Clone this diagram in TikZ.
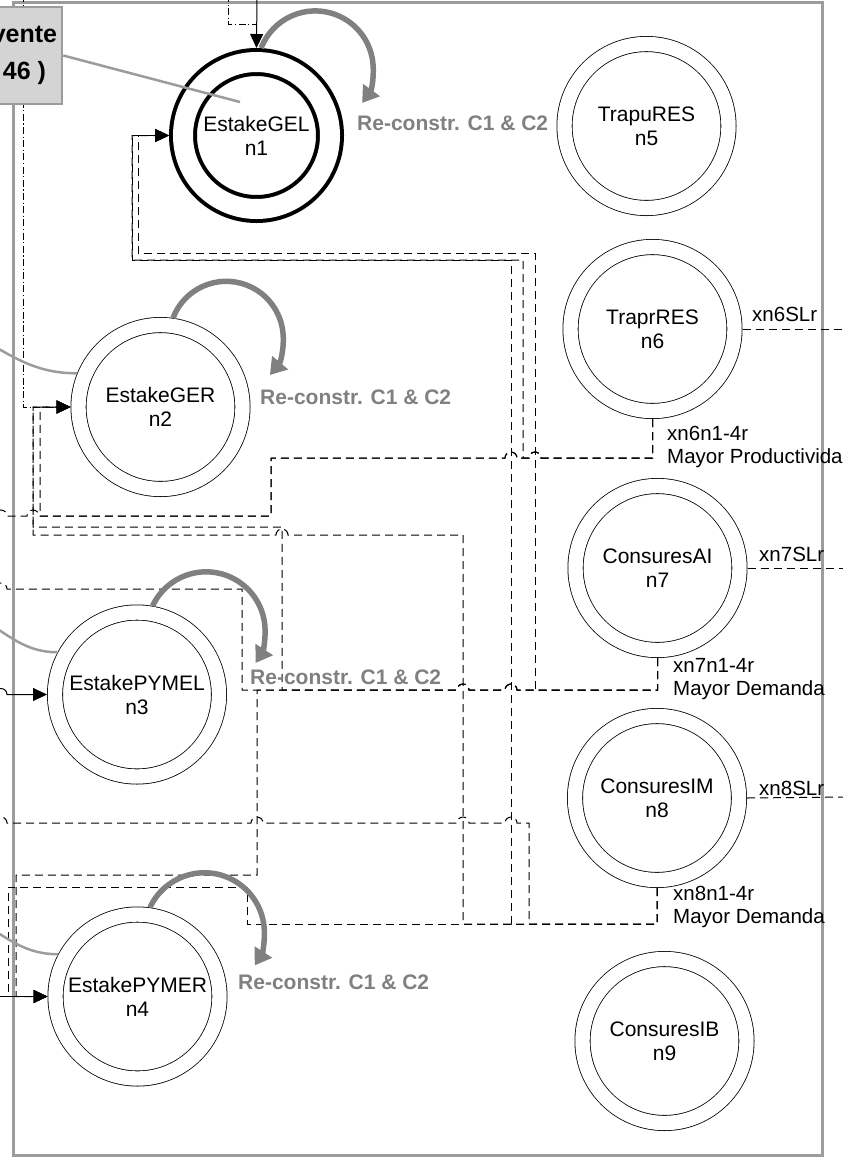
\documentclass[tikz,border=0pt]{standalone}
\usepackage{fontspec}
\setmainfont{Liberation Sans}
\usetikzlibrary{arrows.meta}

\definecolor{loopgray}{HTML}{808080}
\definecolor{framegray}{HTML}{9C9C9C}
\definecolor{boxgray}{HTML}{D4D4D4}

\begin{document}
\begin{tikzpicture}[x=1pt, y=1pt,
    state/.style={circle, draw, double, line width=0.8pt, double distance=14.4pt, minimum size=164pt, inner sep=0pt, outer sep=8pt, align=center, font=\fontsize{21}{24}\selectfont},
    mainstate/.style={state, line width=4pt, double distance=20pt, minimum size=147pt, outer sep=14pt},
    conn/.style={line width=1pt, dash pattern=on 8pt off 5pt},
    conndot/.style={line width=1pt, dash pattern=on 7pt off 2.5pt on 1.2pt off 2.5pt},
    arr/.style={-{Triangle[length=14pt,width=13pt]}},
    selfloop/.style={loopgray, line width=5.5pt, -{Triangle[length=16pt,width=20pt]}},
    looplabel/.style={loopgray, font=\bfseries\fontsize{21}{25}\selectfont, anchor=west, inner sep=0pt},
    callout/.style={framegray, line width=2.5pt},
    lbl/.style={font=\fontsize{20.5}{23}\selectfont, inner sep=0pt, align=left},
    srcbox/.style={draw=framegray, fill=boxgray, line width=2.5pt, minimum width=75pt, minimum height=97pt, inner sep=0pt, align=center, font=\bfseries\fontsize{25}{37}\selectfont}
]
\path[use as bounding box] (0,0) rectangle (843,-1160);
\clip (0,0) rectangle (843,-1160);

% frame
\draw[framegray, line width=3pt] (13,-2) rectangle (822,-1155);

% states
\node[mainstate] (n1) at (256.5,-135.5) {EstakeGEL\\n1};
\node[state] (n2) at (160.5,-407) {EstakeGER\\n2};
\node[state] (n3) at (137,-694.5) {EstakePYMEL\\n3};
\node[state] (n4) at (137.5,-996.5) {EstakePYMER\\n4};
\node[state] (n5) at (646.5,-126) {TrapuRES\\n5};
\node[state] (n6) at (652.5,-329) {TraprRES\\n6};
\node[state] (n7) at (657.5,-568) {ConsuresAI\\n7};
\node[state] (n8) at (657,-798) {ConsuresIM\\n8};
\node[state] (n9) at (664.5,-1041) {ConsuresIB\\n9};

% free ends outside the frame
\coordinate (topin) at (257,5);
\coordinate (topdd) at (228,5);
\coordinate (leftdd) at (23,5);
\coordinate (n6out) at (-20,-516);
\coordinate (n7out) at (-20,-589);
\coordinate (n8out) at (-20,-823);
\coordinate (n3in) at (-20,-694.5);
\coordinate (n4in) at (-20,-996.5);
\coordinate (n6r) at (850,-329);
\coordinate (n7r) at (850,-568);
\coordinate (n8r) at (850,-797);
\coordinate (n1ptr) at (240,-102);
\coordinate (c2) at (-20,-338);
\coordinate (c3) at (-20,-618);
\coordinate (c4) at (-20,-922);

% inputs
\draw[arr, line width=1pt] (topin) -- (n1.north);
\draw[conndot] (topdd) |- (257,-24);
\draw[conndot, arr] (leftdd) |- (n2.west);
\draw[arr, line width=1pt] (n3in) -- (-5,-694.5) arc[start angle=180, end angle=0, radius=6] -- (n3.west);
\draw[arr, line width=1pt] (n4in) -- (n4.west);

% xn6n1-4r
\draw[conn, arr] (n6.south) |- (541,-458) arc[start angle=0, end angle=180, radius=6] -- (523,-458) |- (132,-260) |- (n1.west);
\draw[conn, arr] (n6.south) |- (541,-458) arc[start angle=0, end angle=180, radius=6] -- (517,-458) arc[start angle=0, end angle=180, radius=6] -- (271,-458) |- (40,-516) |- (n2.west);
\draw[conn] (n6.south) |- (541,-458) arc[start angle=0, end angle=180, radius=6] -- (517,-458) arc[start angle=0, end angle=180, radius=6] -- (271,-458) |- (39,-516) arc[start angle=0, end angle=180, radius=6] -- (7,-516) arc[start angle=0, end angle=180, radius=6] -- (n6out);

% xn7n1-4r
\draw[conn, arr] (n7.south) |- (535,-690) |- (138,-253) |- (n1.west);
\draw[conn, arr] (n7.south) |- (517,-690) arc[start angle=0, end angle=180, radius=6] -- (469,-690) arc[start angle=0, end angle=180, radius=6] -- (282,-690) |- (33,-527) |- (n2.west);
\draw[conn] (n7.south) |- (517,-690) arc[start angle=0, end angle=180, radius=6] -- (469,-690) arc[start angle=0, end angle=180, radius=6] -- (242,-690) |- (7,-589) arc[start angle=0, end angle=180, radius=6] -- (n7out);
\draw[conn, arr] (n7.south) |- (517,-690) arc[start angle=0, end angle=180, radius=6] -- (469,-690) arc[start angle=0, end angle=180, radius=6] -- (257,-690) |- (16,-875) |- (n4.west);

% xn8n1-4r
\draw[conn, arr] (n8.south) |- (511,-924) |- (132,-260) |- (n1.west);
\draw[conn, arr] (n8.south) |- (463,-924) |- (288,-535) arc[start angle=0, end angle=180, radius=6] -- (33,-535) |- (n2.west);
\draw[conn] (n8.south) |- (529,-924) |- (517,-823) arc[start angle=0, end angle=180, radius=6] -- (469,-823) arc[start angle=0, end angle=180, radius=6] -- (263,-823) arc[start angle=0, end angle=180, radius=6] -- (7,-823) arc[start angle=0, end angle=180, radius=6] -- (n8out);
\draw[conn, arr] (n8.south) |- (247,-924) |- (8,-887) |- (n4.west);

% xnSLr
\draw[conn] (n6.east) -- (n6r);
\draw[conn] (n7.east) -- (n7r);
\draw[conn] (n8.east) -- (n8r);

% source box
\node[srcbox] (src) at (24.5,-55.5) {vente\\46 )};
\draw[callout] (src.east) -- (n1ptr);
\draw[callout] (c2) to[out=-30, in=180] (n2.158);
\draw[callout] (c3) to[out=-30, in=180] (n3.152);
\draw[callout] (c4) to[out=-30, in=180] (n4.152);

% self loops
\draw[selfloop] (n1.87) arc[start angle=159, end angle=-36, radius=58];
\draw[selfloop] (n2.82) arc[start angle=159, end angle=-40, radius=57];
\draw[selfloop] (n3.80) arc[start angle=155, end angle=-33, radius=59];
\draw[selfloop] (n4.82) arc[start angle=155, end angle=-33, radius=60];

\node[looplabel] (r1) at (357,-123) {Re-constr. C1 \& C2};
\node[looplabel] (r2) at (260,-397) {Re-constr. C1 \& C2};
\node[looplabel] (r3) at (250,-677) {Re-constr. C1 \& C2};
\node[looplabel] (r4) at (238,-982) {Re-constr. C1 \& C2};

% labels
\node[lbl, anchor=base west] (l6s) at (752,-321) {xn6SLr};
\node[lbl, anchor=base west] (l7s) at (759,-561) {xn7SLr};
\node[lbl, anchor=base west] (l8s) at (759,-795) {xn8SLr};
\node[lbl, anchor=west] (l6) at (667,-447) {xn6n1-4r\\Mayor Productivida};
\node[lbl, anchor=west] (l7) at (673,-679) {xn7n1-4r\\Mayor Demanda};
\node[lbl, anchor=west] (l8) at (673,-907) {xn8n1-4r\\Mayor Demanda};
\end{tikzpicture}
\end{document}
